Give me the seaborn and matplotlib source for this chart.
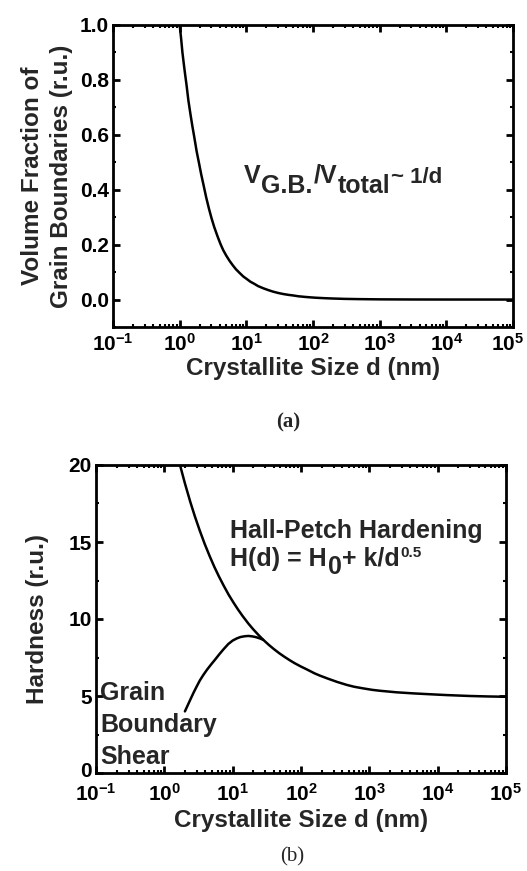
import numpy as np
import pandas as pd
import matplotlib
matplotlib.use("Agg")
import matplotlib.pyplot as plt
import matplotlib.transforms as mtransforms
import seaborn as sns
from matplotlib.ticker import FixedLocator, LogLocator, NullFormatter, FuncFormatter, MultipleLocator

# ---------------- data ----------------
# (a) volume fraction of grain boundaries vs crystallite size
d_vf = [1.0, 1.05, 1.1, 1.15, 1.2, 1.27, 1.35, 1.45, 1.55, 1.65, 1.8, 1.95, 2.1, 2.3, 2.5,
        2.75, 3.0, 3.3, 3.7, 4.1, 4.5, 5.0, 5.6, 6.3, 7.0, 8.0, 9.0, 10, 11.5, 13, 15, 18,
        21, 25, 30, 36, 43, 50, 60, 75, 90, 110, 150, 200, 300, 500, 1000, 3000, 1e4, 1e5]
vf = [1.000, 0.952, 0.900, 0.861, 0.825, 0.780, 0.726, 0.676, 0.632, 0.594, 0.539, 0.497, 0.457, 0.413, 0.372,
      0.331, 0.297, 0.264, 0.230, 0.202, 0.180, 0.160, 0.141, 0.124, 0.110, 0.096, 0.084, 0.076, 0.065, 0.058, 0.049, 0.041,
      0.035, 0.029, 0.024, 0.020, 0.017, 0.015, 0.012, 0.0097, 0.0081, 0.0066, 0.0049, 0.0037, 0.0024, 0.0015, 0.0007,
      0.00024, 0.00007, 0.000007]

# (b) Hall-Petch hardening
d_hp = [1.7, 2.0, 2.4, 2.8, 3.3, 3.9, 4.6, 5.4, 6.3, 7.4, 8.7, 10.2, 12, 14, 17, 20, 24, 28,
        34, 40, 48, 57, 68, 80, 100, 120, 158, 190, 250, 340, 468, 600, 800, 1100, 1430,
        2500, 4400, 8000, 13500, 20000, 30000, 55000, 1e5]
h_hp = [19.98, 18.81, 17.60, 16.66, 15.74, 14.87, 14.09, 13.38, 12.76, 12.16, 11.59, 11.09, 10.61, 10.19,
        9.70, 9.33, 8.95, 8.65, 8.31, 8.05, 7.78, 7.55, 7.33, 7.14, 6.91, 6.74, 6.47, 6.32, 6.12, 5.91,
        5.72, 5.60, 5.50, 5.40, 5.34, 5.24, 5.17, 5.11, 5.06, 5.03, 5.00, 4.97, 4.95]

# (b) grain boundary shear branch
d_gb = [2.0, 2.2, 2.45, 2.7, 3.0, 3.3, 3.7, 4.2, 4.8, 5.5, 6.3, 7.3, 8.65, 10, 11.5, 13, 15, 17,
        19.5, 22, 25, 28]
h_gb = [4.0, 4.4, 4.85, 5.25, 5.65, 6.0, 6.35, 6.7, 7.03, 7.35, 7.68, 8.02, 8.38, 8.6, 8.74, 8.83,
        8.88, 8.9, 8.87, 8.82, 8.74, 8.65]

x_ticks = [1e-1, 1e0, 1e1, 1e2, 1e3, 1e4, 1e5]
x_tick_labels = [r"$10^{-1}$", r"$10^{0}$", r"$10^{1}$", r"$10^{2}$", r"$10^{3}$", r"$10^{4}$", r"$10^{5}$"]
vf_ticks = [0.0, 0.2, 0.4, 0.6, 0.8, 1.0]
h_ticks = [0, 5, 10, 15, 20]

df_a = pd.DataFrame({"d": d_vf, "v": vf})
df_hp = pd.DataFrame({"d": d_hp, "h": h_hp})
df_gb = pd.DataFrame({"d": d_gb, "h": h_gb})

# ---------------- style ----------------
sns.set_style("ticks")
plt.rcParams.update({
    "font.family": ["Liberation Sans", "DejaVu Sans"],
    "font.weight": "bold",
    "axes.labelweight": "bold",
    "mathtext.fontset": "custom",
    "mathtext.rm": "Liberation Sans:bold",
    "mathtext.it": "Liberation Sans:bold",
    "mathtext.bf": "Liberation Sans:bold",
    "mathtext.sf": "Liberation Sans:bold",
    "axes.linewidth": 2.0,
    "xtick.direction": "in",
    "ytick.direction": "in",
    "xtick.top": True,
    "ytick.right": True,
    "xtick.major.width": 2.0,
    "ytick.major.width": 2.0,
    "xtick.minor.width": 1.5,
    "ytick.minor.width": 1.5,
    "xtick.major.size": 5,
    "ytick.major.size": 5,
    "xtick.minor.size": 2.5,
    "ytick.minor.size": 2.5,
    "axes.edgecolor": "black",
    "xtick.color": "black",
    "ytick.color": "black",
})

fig = plt.figure(figsize=(5.27, 8.71), dpi=100)
ax1 = fig.add_axes([113 / 527, 1 - 327 / 871, 400 / 527, 302 / 871])
ax2 = fig.add_axes([96 / 527, 1 - 773 / 871, 410 / 527, 308 / 871])

LW = 1.8
FS_TICK = 15
FS_LAB = 17.5
FS_ANN = 18


def style_log_x(ax, xpad=4):
    ax.set_xscale("log")
    ax.set_xlim(1e-1, 1e5)
    ax.xaxis.set_major_locator(FixedLocator(x_ticks))
    ax.set_xticklabels(x_tick_labels)
    ax.xaxis.set_minor_locator(LogLocator(base=10, subs=np.arange(2, 10), numticks=100))
    ax.xaxis.set_minor_formatter(NullFormatter())
    ax.tick_params(axis="both", which="both", top=True, right=True, labelsize=FS_TICK)
    ax.tick_params(axis="x", which="major", pad=xpad)
    ax.tick_params(axis="y", which="major", pad=3)
    for s in ax.spines.values():
        s.set_visible(True)
        s.set_linewidth(2.0)


def chain(ax, x, y, pieces, fs):
    """pieces: list of (text, dy_points, fontsize or None)"""
    first, _, f0 = pieces[0]
    prev = ax.text(x, y, first, fontsize=f0 or fs, fontweight="bold", ha="left", va="baseline")
    for txt, dy, f in pieces[1:]:
        prev = ax.annotate(txt, xy=(1, 0), xycoords=prev, xytext=(0.5, dy),
                           textcoords="offset points", fontsize=f or fs, fontweight="bold",
                           ha="left", va="bottom")
    return prev


def nudge(label, dx_px, dy_px):
    label.set_transform(label.get_transform() +
                        mtransforms.ScaledTranslation(dx_px / 100, dy_px / 100, fig.dpi_scale_trans))


# ---------------- panel (a) ----------------
sns.lineplot(data=df_a, x="d", y="v", ax=ax1, color="black", linewidth=LW, sort=False, estimator=None)
style_log_x(ax1)
ax1.set_ylim(-0.1, 1.0)
ax1.yaxis.set_major_locator(FixedLocator(vf_ticks))
ax1.yaxis.set_minor_locator(MultipleLocator(0.1))
ax1.yaxis.set_major_formatter(FuncFormatter(lambda v, p: f"{v:.1f}"))
ax1.set_xlabel("Crystallite Size d (nm)", fontsize=FS_LAB, fontweight="bold", labelpad=2)
ax1.set_ylabel("Volume Fraction of\nGrain Boundaries (r.u.)", fontsize=FS_LAB, fontweight="bold",
               labelpad=5, linespacing=1.3)
chain(ax1, 9.2, 0.425, [("V", 0, None), ("G.B.", -7, None), ("/V", 7, None),
                         ("total", -7, None), ("~ 1/d", 7, 16)], FS_ANN)
# keep the right-most tick label inside the canvas
nudge(ax1.get_xticklabels()[-1], -5, 0)

# ---------------- panel (b) ----------------
sns.lineplot(data=df_hp, x="d", y="h", ax=ax2, color="black", linewidth=LW, sort=False, estimator=None)
sns.lineplot(data=df_gb, x="d", y="h", ax=ax2, color="black", linewidth=LW, sort=False, estimator=None)
style_log_x(ax2, xpad=7)
ax2.set_ylim(0, 20)
ax2.yaxis.set_major_locator(FixedLocator(h_ticks))
ax2.yaxis.set_minor_locator(MultipleLocator(2.5))
ax2.set_xlabel("Crystallite Size d (nm)", fontsize=FS_LAB, fontweight="bold", labelpad=3)
ax2.set_ylabel("Hardness (r.u.)", fontsize=FS_LAB, fontweight="bold", labelpad=14)
ax2.text(9.2, 15.7, "Hall-Petch Hardening", fontsize=FS_ANN, fontweight="bold", ha="left", va="center")
chain(ax2, 9.2, 13.45, [("H(d) = H", 0, None), ("0", -6, None), ("+ k/d", 6, None), ("0.5", 8, 11)], FS_ANN)
ax2.text(0.115, 5.2, "Grain", fontsize=FS_ANN, fontweight="bold", ha="left", va="center")
ax2.text(0.115, 3.1, "Boundary", fontsize=FS_ANN, fontweight="bold", ha="left", va="center")
ax2.text(0.115, 1.04, "Shear", fontsize=FS_ANN, fontweight="bold", ha="left", va="center")
# lift the "0" y tick label a little so it clears the 10^-1 label
nudge(ax2.get_yticklabels()[0], 0, 4)

# ---------------- captions ----------------
fig.text(288 / 527, 1 - 422 / 871, "(a)", fontsize=15, fontweight="bold",
         family=["Liberation Serif", "DejaVu Serif"], ha="center", va="center")
fig.text(292 / 527, 1 - 857 / 871, "(b)", fontsize=15, fontweight="normal",
         family=["Liberation Serif", "DejaVu Serif"], ha="center", va="center")

fig.savefig("out.png", dpi=100)
